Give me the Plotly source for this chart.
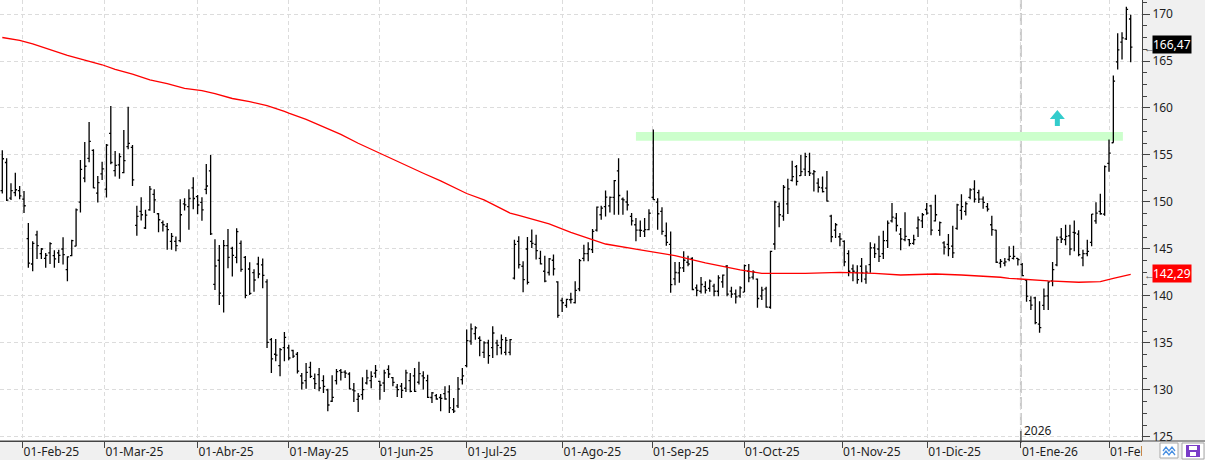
import plotly.graph_objects as go

# ---------------- data ----------------
opens = [
    151.2, 154.2, 150.4, 151.0, 151.2, 150.3, 146.1, 143.4, 146.5, 144.5,
    144.0, 144.58, 144.3, 144.58, 145.0, 142.81, 144.29, 145.3, 149.98, 152.53,
    154.65, 155.5, 150.94, 153.0, 151.36, 157.3, 153.34, 153.94, 153.13, 155.88,
    155.81, 147.51, 149.0, 147.23, 149.17, 150.8, 148.75, 147.8, 147.4, 145.81,
    145.8, 145.88, 149.8, 149.5, 151.5, 150.57, 149.96, 151.35, 153.3, 141.24,
    143.8, 140.0, 145.35, 145.07, 144.11, 145.6, 144.11, 142.87, 142.48, 143.4,
    143.3, 141.49,
    135.35, 133.8, 132.6, 134.5, 134.47, 134.2, 133.8, 131.5, 131.0, 132.4,
    131.2, 131.63, 131.0, 130.0, 128.8, 131.0, 132.06, 131.9, 131.7, 130.0,
    129.0, 129.5, 130.74, 131.0, 131.8, 130.92, 130.74, 132.2, 131.31, 130.3,
    130.4, 130.18, 131.0, 131.5, 130.82, 131.5, 131.0, 129.2, 129.4, 129.2,
    129.6, 129.8, 127.9, 128.3, 131.1, 132.6, 135.2, 136.0, 135.5, 134.0,
    135.0, 134.5, 135.0, 134.5, 134.0, 134.0, 141.9, 145.8, 143.16, 145.0,
    145.8, 145.5,
    144.0, 142.63, 142.5, 143.8, 141.5, 139.52, 139.0, 139.6, 139.3, 140.76,
    144.0, 144.5, 144.93, 147.0, 148.64, 149.5, 149.59, 150.5, 153.3, 150.3,
    150.0, 148.46, 147.58, 147.0, 146.9, 147.05, 150.5, 149.98, 149.0, 146.41,
    145.5, 141.82, 142.46, 142.99, 143.59, 144.0, 140.87, 140.5, 141.0, 140.8,
    141.04, 140.5, 141.5, 143.16, 140.51, 140.23, 140.0, 140.41, 142.63, 142.0,
    141.8, 140.0, 140.76, 138.8, 145.53, 149.5, 148.5, 149.8, 152.3, 153.76,
    152.8, 153.5, 153.23, 153.0, 152.0, 151.5, 151.47, 148.5, 147.0,
    146.3, 145.8, 144.5, 142.88, 142.5, 143.16, 141.8, 143.34, 145.11, 145.0,
    144.5, 145.88, 148.0, 148.29, 146.59, 146.0, 146.0, 145.6, 147.23, 148.0,
    149.2, 149.59, 148.0, 146.98, 145.64, 145.5, 145.3, 147.2, 149.1, 149.0,
    150.5, 151.36, 151.0, 150.3, 149.5, 147.58, 147.0, 143.5, 143.5, 143.9,
    144.0, 144.0, 143.34, 141.7, 139.5, 139.8, 137.0, 139.0, 140.0, 141.6,
    143.3, 146.27, 146.0, 146.41, 146.77, 146.59, 144.05, 144.5, 145.71, 148.0,
    149.0, 148.71, 154.1, 156.3, 164.9, 167.0, 167.35, 169.47,
]
highs = [
    155.5, 154.65, 152.0, 153.1, 151.7, 151.18, 147.76, 145.81, 146.94, 145.11,
    144.58, 145.71, 144.86, 144.93, 146.24, 144.22, 145.99, 149.31, 154.47, 156.38,
    158.5, 155.6, 152.77, 154.29, 156.17, 160.2, 155.42, 155.18, 157.65, 160.12,
    156.06, 149.59, 150.51, 149.17, 151.71, 151.36, 148.82, 148.04, 147.76, 146.7,
    146.34, 150.3, 150.41, 151.36, 152.63, 150.74, 150.5, 154.04, 155.0, 146.03,
    145.43, 145.96, 147.13, 145.25, 147.2, 145.89, 144.26, 143.58, 142.84, 144.18,
    144.0, 141.77,
    135.53, 135.43, 134.47, 136.17, 134.82, 134.29, 134.04, 131.81, 132.87, 133.01,
    131.74, 132.34, 131.56, 130.14, 131.56, 132.23, 132.23, 132.09, 131.88, 130.74,
    129.68, 131.35, 132.16, 131.99, 132.66, 130.99, 132.16, 132.62, 131.38, 130.64,
    130.74, 132.16, 131.81, 132.34, 133.01, 131.99, 131.63, 129.79, 129.57, 129.57,
    130.39, 130.5, 129.15, 131.38, 132.34, 136.42, 137.06, 136.77, 135.71, 135.18,
    135.35, 136.77, 135.35, 135.89, 135.64, 135.43, 145.99, 146.35, 143.69, 146.28,
    147.06, 146.52,
    144.82, 144.29, 144.05, 144.4, 141.57, 139.81, 139.70, 140.34, 141.57, 143.94,
    145.46, 145.71, 147.12, 149.52, 149.59, 151.22, 150.58, 152.35, 154.65, 150.48,
    151.22, 148.82, 148.29, 148.04, 148.29, 149.24, 157.72, 150.41, 149.45, 147.83,
    146.87, 143.62, 143.62, 144.75, 144.29, 144.12, 141.22, 142.03, 141.57, 141.75,
    141.29, 142.21, 142.28, 143.3, 140.97, 140.69, 141.04, 143.34, 143.41, 142.74,
    141.86, 140.97, 140.97, 144.82, 150.12, 149.95, 151.82, 152.46, 154.4, 153.94,
    155.0, 155.25, 155.25, 153.41, 152.53, 152.7, 153.3, 148.64, 147.76,
    146.7, 145.92, 144.86, 143.34, 143.27, 144.05, 143.27, 145.71, 145.57, 146.41,
    146.94, 148.04, 149.88, 148.82, 147.23, 148.92, 146.06, 146.52, 148.46, 148.82,
    149.88, 149.7, 150.76, 147.93, 145.81, 146.59, 147.47, 149.81, 150.83, 150.05,
    151.47, 152.31, 151.29, 150.58, 149.88, 148.53, 147.05, 143.94, 144.05, 145.28,
    145.35, 144.05, 143.52, 141.75, 139.98, 139.91, 139.45, 140.79, 141.57, 143.62,
    146.34, 147.23, 147.58, 147.58, 148.04, 146.98, 144.93, 145.99, 148.71, 149.98,
    150.87, 153.87, 156.66, 163.46, 167.95, 168.06, 170.78, 169.93,
]
lows = [
    150.9, 150.1, 150.2, 150.6, 150.3, 148.82, 142.99, 142.63, 143.94, 143.94,
    142.99, 143.41, 142.99, 143.52, 143.34, 141.57, 144.22, 145.28, 148.89, 152.1,
    154.22, 151.47, 149.95, 152.35, 150.48, 154.01, 152.7, 152.46, 153.06, 155.6,
    151.71, 146.41, 148.04, 147.12, 149.06, 148.82, 146.77, 146.87, 144.93, 144.93,
    144.75, 145.71, 149.1, 147.05, 149.24, 148.69, 148.01, 150.82, 146.49, 140.64,
    139.04, 138.23, 142.94, 142.06, 143.48, 142.59, 139.75, 140.11, 140.46, 141.88,
    140.82, 134.47,
    131.81, 133.05, 131.45, 133.05, 133.16, 133.4, 131.74, 130.04, 130.14, 131.28,
    130.11, 129.86, 129.68, 127.73, 128.72, 130.57, 131.0, 131.28, 130.04, 128.72,
    127.66, 128.97, 130.57, 130.18, 131.31, 128.97, 129.79, 131.28, 130.39, 129.26,
    129.15, 129.79, 129.75, 129.79, 130.57, 130.04, 129.15, 128.62, 128.97, 127.73,
    128.97, 127.55, 127.55, 128.09, 130.57, 132.41, 134.82, 135.35, 133.58, 133.4,
    132.8, 133.4, 133.69, 133.76, 133.69, 133.69, 141.74, 142.91, 140.39, 141.21,
    145.11, 143.87,
    143.34, 141.47, 142.17, 142.17, 137.69, 138.29, 138.75, 139.2, 139.2, 140.51,
    143.69, 143.69, 144.58, 146.87, 148.11, 148.46, 148.89, 148.64, 148.64, 148.64,
    149.1, 147.51, 145.81, 146.27, 146.27, 146.98, 150.23, 147.05, 146.52, 145.35,
    140.34, 141.15, 141.4, 142.56, 143.16, 140.62, 139.98, 140.27, 140.27, 140.44,
    139.98, 139.98, 140.87, 139.98, 139.81, 139.2, 139.81, 140.41, 141.47, 141.75,
    138.75, 139.56, 138.75, 138.64, 144.93, 147.3, 148.0, 148.71, 152.17, 151.75,
    152.77, 152.77, 152.77, 151.11, 151.0, 151.0, 150.05, 145.71, 146.17,
    145.28, 143.16, 142.1, 141.57, 141.29, 141.47, 141.29, 142.46, 144.05, 143.62,
    143.94, 145.11, 147.83, 146.87, 144.86, 145.81, 145.28, 145.46, 146.27, 147.23,
    148.64, 146.45, 147.93, 146.41, 144.4, 144.22, 144.05, 147.05, 148.11, 148.57,
    150.3, 149.95, 149.88, 149.28, 148.99, 146.41, 143.52, 142.99, 143.16, 143.69,
    143.87, 143.23, 142.1, 139.38, 138.5, 136.98, 136.1, 138.5, 138.5, 141.04,
    143.16, 145.64, 145.39, 144.33, 144.75, 144.22, 143.16, 144.22, 145.28, 147.69,
    148.64, 148.53, 153.23, 156.29, 164.1, 165.16, 167.24, 164.88,
]
closes = [
    154.6, 150.2, 151.2, 151.3, 150.65, 149.6, 143.5, 145.6, 145.35, 145.0,
    144.33, 145.57, 143.94, 144.33, 144.4, 144.15, 145.88, 149.17, 153.48, 153.8,
    156.45, 151.5, 152.07, 153.52, 156.06, 154.2, 153.9, 154.82, 154.4, 156.24,
    152.35, 148.46, 148.64, 148.6, 151.36, 150.23, 148.11, 147.58, 147.05, 146.34,
    145.35, 148.64, 149.7, 150.37, 150.37, 149.68, 149.15, 151.7, 146.6, 143.19,
    140.3, 145.35, 144.11, 144.33, 146.84, 142.84, 140.07, 140.28, 141.7, 142.34,
    142.2, 135.07,
    133.3, 133.7, 134.3, 135.6, 133.4, 133.6, 132.0, 130.74, 131.88, 131.45,
    130.67, 130.21, 130.39, 128.4, 129.22, 131.95, 131.88, 131.8, 130.11, 129.9,
    129.33, 130.04, 131.28, 131.45, 132.09, 130.5, 131.81, 131.7, 130.8, 130.04,
    129.96, 131.81, 129.86, 129.86, 131.74, 131.28, 129.22, 129.68, 129.04, 129.11,
    129.04, 128.09, 127.75, 130.1, 131.5, 135.25, 136.5, 136.6, 135.28, 135.0,
    133.65, 136.06, 134.75, 135.35, 135.28, 135.35, 145.5, 143.33, 141.74, 141.45,
    145.6, 144.82,
    143.41, 141.57, 143.94, 142.88, 137.93, 139.28, 139.63, 139.63, 140.6, 143.76,
    144.51, 145.0, 146.87, 149.45, 149.35, 150.51, 150.48, 152.28, 150.69, 150.23,
    149.7, 148.0, 147.0, 146.98, 147.05, 148.8, 150.25, 148.75, 146.87, 145.71,
    141.2, 142.5, 143.0, 143.8, 143.4, 140.69, 140.6, 141.22, 140.62, 141.57,
    140.5, 141.93, 142.21, 140.2, 140.2, 139.9, 140.87, 143.23, 141.93, 142.53,
    139.73, 140.62, 138.82, 144.75, 150.0, 148.64, 151.57, 151.4, 152.7, 152.2,
    153.23, 154.82, 153.06, 153.23, 151.57, 151.1, 150.1, 146.3, 147.58,
    146.06, 143.62, 142.63, 142.63, 141.75, 142.46, 142.53, 145.11, 144.5, 144.22,
    145.88, 147.76, 148.39, 147.5, 146.06, 146.34, 145.57, 145.99, 148.11, 148.64,
    148.82, 147.0, 148.64, 147.8, 145.2, 145.04, 144.58, 149.7, 149.5, 149.81,
    151.29, 150.3, 150.3, 149.95, 149.24, 147.05, 143.59, 143.69, 143.62, 144.22,
    144.22, 143.87, 142.17, 139.98, 139.03, 137.16, 136.63, 139.98, 141.5, 142.8,
    146.0, 146.06, 146.34, 145.0, 146.7, 144.4, 144.5, 144.75, 148.7, 148.82,
    148.75, 153.76, 155.2, 162.86, 166.18, 167.46, 170.5, 166.47,
]

# moving average (red line), sampled at bar numbers
ma_bar = [0, 4, 7, 11, 15, 19, 23, 26, 30, 34, 38, 42, 46, 49, 53, 57, 61, 65, 66, 70,
          74, 78, 82, 85, 89, 93, 97, 101, 105, 107, 111, 114, 117, 119, 122, 126, 131, 139, 147, 155,
          162, 170, 175, 185, 193, 201, 207, 215, 221, 226, 230, 232, 237, 241, 248, 253, 256, 260]
ma_val = [167.5, 167.2, 166.83, 166.24, 165.6, 165.1, 164.6, 164.12, 163.6, 162.99,
          162.6, 162.08, 161.85, 161.52, 161.01, 160.67, 160.24, 159.65, 159.45, 158.79,
          158.0, 157.2, 156.25, 155.6, 154.76, 153.94, 153.06, 152.24, 151.4, 150.9,
          150.23, 149.52, 148.82, 148.58, 148.19, 147.66, 146.76, 145.53, 144.9, 144.3,
          143.51, 142.77, 142.41, 142.41, 142.52, 142.41, 142.23, 142.34, 142.23, 142.13,
          141.99, 141.88, 141.72, 141.6, 141.46, 141.52, 141.88, 142.29]

month_labels = ["01-Feb-25", "01-Mar-25", "01-Abr-25", "01-May-25", "01-Jun-25", "01-Jul-25",
                "01-Ago-25", "01-Sep-25", "01-Oct-25", "01-Nov-25", "01-Dic-25", "01-Ene-26",
                "01-Feb-26"]
month_bar = [4.68, 23.55, 44.98, 65.97, 86.8, 107.0, 129.1, 149.7, 170.9, 193.5, 213.1, 234.7, 255.0]

year_label = "2026"
last_label = "166,47"
last_value = 166.47
ma_label = "142,29"
ma_value = 142.29
resistance_low, resistance_high = 156.52, 157.45
resistance_from, resistance_to = 146.0, 258.2
arrow_bar, arrow_price = 243.1, 159.79

# ---------------- layout geometry ----------------
W, H = 1205, 460
PR, PB = 1142, 441           # plot right edge / bottom edge in px
X0PX, DXPX = 2.3, 4.34       # first bar pixel and bar spacing
x_min = -X0PX / DXPX
x_max = (PR - X0PX) / DXPX
y_top, y_bot = 171.49, 124.57


def fx(px):
    return px / PR


def fy(py):
    return (PB - py) / PB


xs = list(range(len(opens)))

fig = go.Figure()
fig.add_trace(go.Ohlc(
    x=xs, open=opens, high=highs, low=lows, close=closes,
    increasing=dict(line=dict(color="black", width=1.3)),
    decreasing=dict(line=dict(color="black", width=1.3)),
    tickwidth=0.4, hoverinfo="skip", showlegend=False))
fig.add_trace(go.Scatter(
    x=ma_bar, y=ma_val, mode="lines",
    line=dict(color="#ff0000", width=1.3),
    hoverinfo="skip", showlegend=False))

grid = "#dcdcdc"
axc = "#444444"

fig.update_layout(
    width=W, height=H,
    margin=dict(l=0, r=W - PR, t=0, b=H - PB),
    paper_bgcolor="#f0f0f0", plot_bgcolor="white",
    font=dict(family="Noto Sans", size=12, color="#1e1e1e"),
    showlegend=False,
)
fig.update_xaxes(
    range=[x_min, x_max], rangeslider_visible=False,
    tickmode="array", tickvals=month_bar, ticktext=month_labels,
    ticks="outside", ticklen=6, tickcolor=axc, tickwidth=1,
    ticklabelposition="outside right",
    showline=True, linecolor=axc, linewidth=1,
    showgrid=True, gridcolor=grid, griddash="4px,3px", gridwidth=1,
    zeroline=False, tickfont=dict(size=12, color="#1e1e1e"),
)
fig.update_yaxes(
    side="right", range=[y_bot, y_top],
    tickmode="linear", tick0=125, dtick=5,
    ticks="outside", ticklen=7, tickcolor=axc,
    showline=True, linecolor=axc, linewidth=1,
    showgrid=True, gridcolor=grid, griddash="4px,3px", gridwidth=1,
    zeroline=False, tickfont=dict(size=12, color="#1e1e1e"),
    minor=dict(tick0=125, dtick=1.25, ticks="outside", ticklen=4, tickcolor=axc, showgrid=False),
)

shapes = []
# resistance band
shapes.append(dict(type="rect", xref="x", yref="y", x0=resistance_from, x1=resistance_to,
                   y0=resistance_low, y1=resistance_high, fillcolor="rgb(204,255,204)",
                   line=dict(width=0), layer="between"))
# year separator
shapes.append(dict(type="line", xref="x", yref="paper", x0=month_bar[11], x1=month_bar[11],
                   y0=0, y1=1, line=dict(color="#c8c8c8", width=2, dash="12px,4px"), layer="between"))
shapes.append(dict(type="line", xref="x", yref="paper", x0=month_bar[11], x1=month_bar[11],
                   y0=fy(443), y1=fy(431), line=dict(color="#333", width=1)))
# cyan arrow
shapes.append(dict(type="path", xref="x", yref="y", xsizemode="pixel", ysizemode="pixel",
                   xanchor=arrow_bar, yanchor=arrow_price,
                   path="M0,0 L7.5,-9 L2.5,-9 L2.5,-16 L-2.5,-16 L-2.5,-9 L-7.5,-9 Z",
                   fillcolor="#33cccc", line=dict(width=0)))
# cover for right part of the bottom band, and bottom line extension
shapes.append(dict(type="rect", xref="paper", yref="paper", x0=1, x1=fx(W), y0=fy(H), y1=0,
                   fillcolor="#f0f0f0", line=dict(width=0), layer="above"))
shapes.append(dict(type="line", xref="paper", yref="paper", x0=0, x1=fx(W), y0=0, y1=0,
                   line=dict(color=axc, width=1), layer="above"))
# toolbar icons
shapes.append(dict(type="rect", xref="paper", yref="paper", x0=fx(1160), x1=fx(1178),
                   y0=fy(458), y1=fy(443), fillcolor="white", line=dict(color="#a8a8a8", width=1),
                   layer="above"))
zz1 = "M%f,%f L%f,%f L%f,%f L%f,%f L%f,%f" % (fx(1163), fy(451), fx(1166), fy(447), fx(1169), fy(451),
                                              fx(1172), fy(447), fx(1175), fy(451))
zz2 = "M%f,%f L%f,%f L%f,%f L%f,%f L%f,%f" % (fx(1163), fy(455), fx(1166), fy(451), fx(1169), fy(455),
                                              fx(1172), fy(451), fx(1175), fy(455))
for p in (zz1, zz2):
    shapes.append(dict(type="path", xref="paper", yref="paper", path=p,
                       line=dict(color="#4a90e2", width=1.3), layer="above"))
shapes.append(dict(type="rect", xref="paper", yref="paper", x0=fx(1182), x1=fx(1204),
                   y0=fy(459), y1=fy(443), fillcolor="white", line=dict(color="#a8a8a8", width=1),
                   layer="above"))
shapes.append(dict(type="rect", xref="paper", yref="paper", x0=fx(1186), x1=fx(1200),
                   y0=fy(457), y1=fy(445), fillcolor="#7a3cc8", line=dict(width=0), layer="above"))
shapes.append(dict(type="rect", xref="paper", yref="paper", x0=fx(1189), x1=fx(1197),
                   y0=fy(450), y1=fy(446), fillcolor="white", line=dict(width=0), layer="above"))
shapes.append(dict(type="rect", xref="paper", yref="paper", x0=fx(1190), x1=fx(1196),
                   y0=fy(456), y1=fy(452), fillcolor="white", line=dict(width=0), layer="above"))
fig.update_layout(shapes=shapes)

ann = []
ann.append(dict(x=month_bar[11], xref="x", y=0, yref="paper", text=year_label, showarrow=False,
                xanchor="left", yanchor="bottom", xshift=1, yshift=0,
                font=dict(size=12, color="#1e1e1e")))
for val, txt, bg, ys in ((last_value, last_label, "black", 3), (ma_value, ma_label, "#ff0000", 1)):
    ann.append(dict(x=1, xref="paper", y=val, yref="y", text="←", showarrow=False,
                    xanchor="left", xshift=0, font=dict(size=11, color="#555")))
    ann.append(dict(x=1, xref="paper", y=val, yref="y", text=txt, showarrow=False,
                    xanchor="left", yanchor="middle", xshift=10, yshift=ys, bgcolor=bg, borderpad=0,
                    font=dict(size=12, color="white")))
fig.update_layout(annotations=ann)

fig.write_html("out.html")
